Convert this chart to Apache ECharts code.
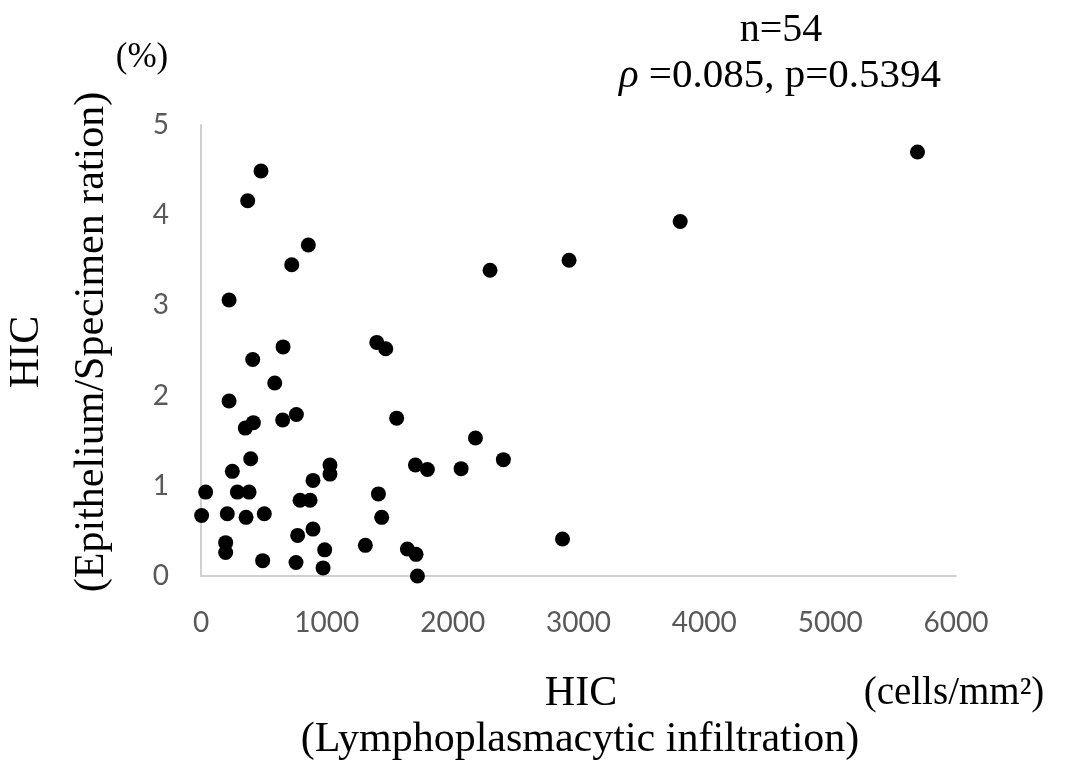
<!DOCTYPE html>
<html>
<head>
<meta charset="utf-8">
<script src="https://cdn.jsdelivr.net/npm/echarts@6/dist/echarts.min.js"></script>
<style>
html, body { margin: 0; padding: 0; background: #fff; }
#chart { width: 1073px; height: 765px; }
</style>
</head>
<body>
<div id="chart"></div>
<script>
// HIC lymphoplasmacytic infiltration (cells/mm2)
const lymphocyte = [
    477, 371, 853, 721, 223, 652, 1397, 1468, 411, 586,
    223, 649, 758, 352, 416, 1555, 2181, 395, 249, 1025,
    1025, 890, 1704, 1799, 2067, 2403, 37, 289, 382, 787,
    867, 1410, 5, 209, 358, 503, 1436, 890, 768, 196,
    196, 1306, 983, 1640, 1709, 490, 755, 970, 1720, 5694,
    3808, 2925, 2297, 2873,
]
// HIC epithelium / specimen ratio (%)
const epithelium = [
    4.49, 4.16, 3.67, 3.45, 3.06, 2.54, 2.59, 2.52, 2.40, 2.14,
    1.94, 1.73, 1.79, 1.64, 1.70, 1.75, 1.53, 1.30, 1.16, 1.23,
    1.13, 1.06, 1.23, 1.18, 1.19, 1.29, 0.93, 0.93, 0.93, 0.84,
    0.84, 0.91, 0.67, 0.69, 0.65, 0.69, 0.65, 0.52, 0.45, 0.37,
    0.26, 0.34, 0.29, 0.30, 0.24, 0.17, 0.15, 0.09, 0.00, 4.70,
    3.93, 3.50, 3.39, 0.41,
]
const xTicks = [0, 1000, 2000, 3000, 4000, 5000, 6000]
const yTicks = [0, 1, 2, 3, 4, 5]

const points = lymphocyte.map((x, i) => [x, epithelium[i]])

const serif = '"Liberation Serif", "DejaVu Serif", serif'
const tickFont = 'Lato, "Open Sans", sans-serif'

const chart = echarts.init(document.getElementById('chart'))
chart.setOption({
    backgroundColor: '#ffffff',
    animation: false,
    grid: {
        left: 201,
        right: 117,
        top: 125,
        bottom: 189,
    },
    xAxis: {
        type: 'value',
        min: xTicks[0],
        max: xTicks[xTicks.length - 1],
        interval: 1000,
        axisLine: { lineStyle: { color: '#d0d0d0', width: 2 } },
        axisTick: { show: false },
        splitLine: { show: false },
        axisLabel: {
            color: '#595959',
            fontSize: 28,
            fontFamily: tickFont,
            margin: 33,
            formatter: v => String(v),
        },
    },
    yAxis: {
        type: 'value',
        min: yTicks[0],
        max: yTicks[yTicks.length - 1],
        interval: 1,
        axisLine: { show: true, lineStyle: { color: '#d0d0d0', width: 2 } },
        axisTick: { show: false },
        splitLine: { show: false },
        axisLabel: {
            color: '#595959',
            fontSize: 28,
            fontFamily: tickFont,
            margin: 32,
        },
    },
    series: [
        {
            type: 'scatter',
            data: points,
            symbol: 'circle',
            symbolSize: 15,
            itemStyle: { color: '#000000', opacity: 1 },
        },
    ],
    graphic: [
        {
            type: 'text', x: 142, y: 58,
            style: { text: '(%)', font: '35px ' + serif, fill: '#000', align: 'center', verticalAlign: 'middle' },
        },
        {
            type: 'text', x: 781, y: 30,
            style: { text: 'n=54', font: '40px ' + serif, fill: '#000', align: 'center', verticalAlign: 'middle' },
        },
        {
            type: 'text', x: 780, y: 76,
            style: {
                text: '{i|ρ} =0.085, p=0.5394',
                font: '41px ' + serif,
                fill: '#000',
                align: 'center',
                verticalAlign: 'middle',
                rich: { i: { fontStyle: 'italic', fontSize: 41, fontFamily: serif } },
            },
        },
        {
            type: 'text', x: 27, y: 352, rotation: Math.PI / 2,
            style: { text: 'HIC', font: '42px ' + serif, fill: '#000', align: 'center', verticalAlign: 'middle' },
        },
        {
            type: 'text', x: 92, y: 342, rotation: Math.PI / 2,
            style: { text: '(Epithelium/Specimen ration)', font: '42px ' + serif, fill: '#000', align: 'center', verticalAlign: 'middle' },
        },
        {
            type: 'text', x: 581, y: 694,
            style: { text: 'HIC', font: '42px ' + serif, fill: '#000', align: 'center', verticalAlign: 'middle' },
        },
        {
            type: 'text', x: 580, y: 740,
            style: { text: '(Lymphoplasmacytic infiltration)', font: '42px ' + serif, fill: '#000', align: 'center', verticalAlign: 'middle' },
        },
        {
            type: 'text', x: 954, y: 694,
            style: { text: '(cells/mm²)', font: '39px ' + serif, fill: '#000', align: 'center', verticalAlign: 'middle' },
        },
    ],
})
</script>
</body>
</html>
